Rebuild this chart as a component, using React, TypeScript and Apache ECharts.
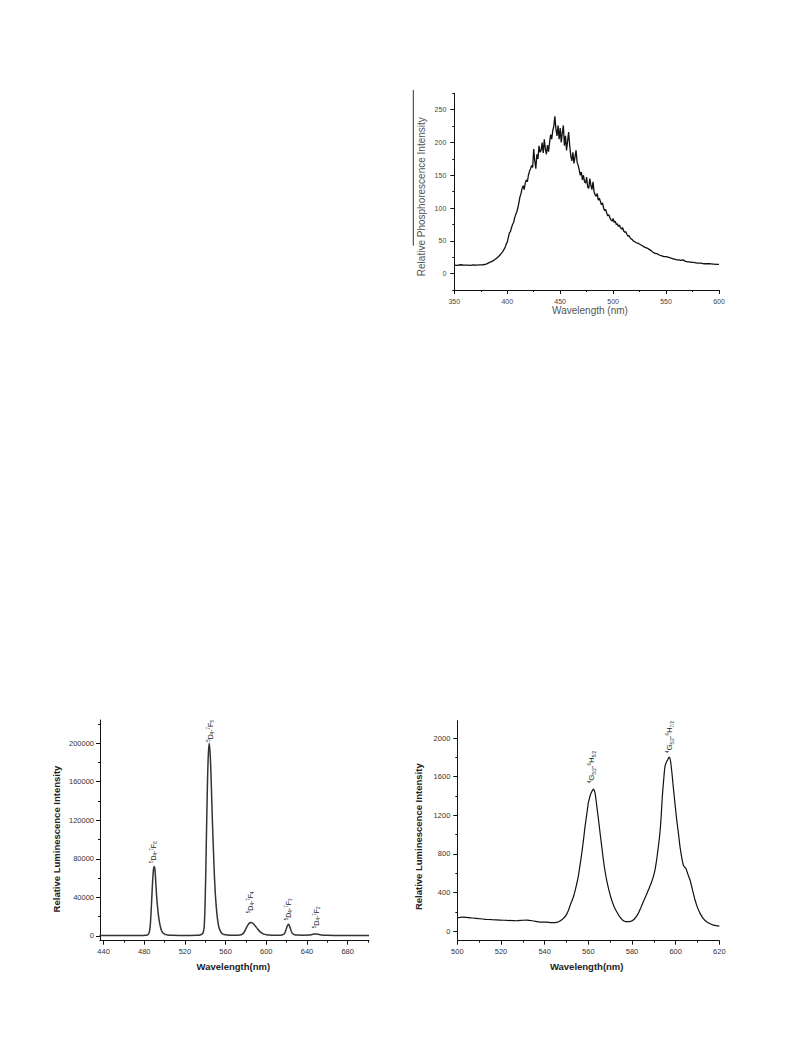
import React, { useEffect, useRef } from "react";
import * as echarts from "echarts";

// ---------- Chart 1: phosphorescence ----------
const phosWavelength = [
  350, 353, 356, 359, 362, 365, 368, 371, 374, 377, 380, 382, 384, 386, 388, 390, 392, 394, 396, 398,
  399, 400, 401, 402, 403, 404, 405, 406, 407, 408, 409, 410, 411, 412, 413, 414, 415, 416, 417, 418,
  419, 420, 421, 422, 423, 424, 425, 426, 427, 428, 429, 430, 431, 432, 433, 434, 435, 436, 437, 438,
  439, 440, 441, 442, 443, 444, 445, 446, 447, 448, 449, 450, 451, 452, 453, 454, 455, 456, 457, 458,
  459, 460, 461, 462, 463, 464, 465, 466, 467, 468, 469, 470, 471, 472, 473, 474, 475, 476, 477, 478,
  479, 480, 481, 482, 483, 484, 485, 486, 487, 488, 489, 490, 491, 492, 493, 494, 495, 496, 497, 498,
  499, 500, 501, 502, 503, 504, 505, 506, 507, 508, 509, 510, 511, 512, 513, 514, 515, 516, 517, 518,
  519, 520, 522, 524, 526, 528, 530, 532, 534, 536, 538, 540, 542, 544, 546, 548, 550, 552, 554, 556,
  558, 560, 562, 564, 566, 568, 570, 572, 574, 576, 578, 580, 583, 586, 589, 592, 595, 598, 600,
];
const phosIntensity = [
  13, 12.5, 13.5, 12.8, 13, 12.6, 13.2, 12.9, 13.4, 13.5, 14.5, 16, 17.5, 19, 21, 23.5, 26.5, 30, 34, 40,
  45, 48, 55, 62, 64, 70, 75, 78, 85, 90, 94, 100, 108, 117, 122, 130, 134, 128, 138, 143,
  140, 150, 156, 160, 165, 162, 190, 172, 160, 182, 175, 195, 185, 188, 200, 184, 205, 190, 182, 196,
  186, 200, 212, 205, 218, 225, 240, 220, 210, 226, 205, 222, 200, 215, 226, 195, 210, 188, 202, 216,
  195, 180, 172, 185, 168, 178, 188, 170, 165, 158, 150, 155, 143, 150, 140, 138, 147, 132, 130, 145,
  135, 128, 140, 125, 120, 118, 122, 112, 115, 110, 105, 108, 100, 96, 98, 92, 88, 90, 85, 82,
  80, 84, 78, 80, 75, 76, 72, 74, 70, 68, 70, 65, 63, 64, 60, 57, 58, 55, 53, 52,
  50, 49, 47, 46, 44, 42, 40, 39, 37, 35, 32, 31, 30, 28, 27, 26, 26, 25, 24, 23,
  22, 21, 21, 20, 21, 19, 18, 18, 17, 17, 16.5, 16, 16, 15, 15, 15, 14.5, 14, 14,
];
const phosXTicks = [350, 400, 450, 500, 550, 600];
const phosXMinor = [375, 425, 475, 525, 575];
const phosYTicks = [0, 50, 100, 150, 200, 250];
const phosYMinor = [-25, 25, 75, 125, 175, 225, 275];

// ---------- Chart 2: Tb luminescence ----------
const tbWavelength = [
  436, 440, 450, 460, 470, 478, 481, 483, 484, 485, 486, 487, 488, 489, 489.8, 490.5, 491, 492, 493, 494,
  495, 496, 497, 498, 500, 503, 508, 515, 525, 532, 535, 537, 538, 539, 540, 541, 542, 543, 544, 545,
  546, 547, 548, 549, 550, 551, 552, 553, 554, 556, 558, 562, 568, 574, 576, 578, 580, 582, 584, 585,
  587, 589, 591, 593, 595, 597, 600, 605, 612, 615, 617, 618, 619, 620, 621, 622, 623, 624, 625, 626,
  628, 631, 636, 642, 645, 647, 649, 651, 654, 660, 670, 680, 690, 701,
];
const tbIntensity = [
  400, 350, 300, 300, 300, 350, 600, 1000, 1600, 4000, 12000, 30000, 52000, 68000, 72000, 69000, 62000, 44000, 31000, 21000,
  14000, 9000, 5500, 3500, 1800, 900, 600, 450, 450, 600, 1000, 2000, 3500, 10000, 40000, 95000, 150000, 188000, 200000, 185000,
  155000, 120000, 90000, 62000, 42000, 28000, 18000, 11000, 7000, 3000, 1600, 900, 700, 900, 1500, 3500, 7500, 11500, 13800, 14000,
  12800, 10500, 7800, 5200, 3300, 2100, 1200, 700, 700, 900, 1500, 2500, 5000, 8500, 11000, 12000, 10000, 6500, 3800, 2200,
  1200, 850, 700, 800, 1400, 1900, 2000, 1600, 1000, 700, 500, 400, 350, 300,
];
const tbXTicks = [440, 480, 520, 560, 600, 640, 680];
const tbXMinor = [460, 500, 540, 580, 620, 660, 700];
const tbYTicks = [0, 40000, 80000, 120000, 160000, 200000];
const tbYMinor = [20000, 60000, 100000, 140000, 180000, 220000];
const tbLabelNm = [489.2, 544.7, 584.3, 622, 649.5];
const tbLabelValue = [75600, 201400, 23600, 16300, 8000];
const tbLabelFinal = ["6", "5", "4", "3", "2"];

// ---------- Chart 3: Sm luminescence ----------
const smWavelength = [
  500, 502, 504.3, 507, 510, 513, 516, 519.6, 523, 527, 530, 532, 535, 538, 541, 543, 545.5, 547, 548.6, 550,
  551, 552, 553.2, 554.3, 555.4, 556.2, 557, 557.8, 558.5, 559.3, 560, 560.8, 561.6, 562.3, 562.7, 563.1, 563.6, 564.1, 564.8, 565.4,
  566.2, 566.9, 567.6, 568.4, 569.5, 570.7, 571.8, 573, 574.5, 576.1, 577.2, 578.3, 579.5, 580.6, 581.8, 582.9, 584, 585.2, 586.4, 587.5,
  588.7, 589.8, 590.6, 591.3, 592, 592.8, 593.4, 593.9, 594.5, 595.1, 595.9, 596.5, 597, 597.4, 597.7, 598.3, 598.9, 599.7, 600.5, 601.3,
  602, 602.8, 603.5, 604.2, 604.7, 605.6, 606.6, 607.8, 608.9, 610, 611.2, 612.7, 614.2, 615.8, 617.3, 618.7, 620,
];
const smIntensity = [
  135, 145, 142, 135, 128, 122, 118, 114, 110, 107, 112, 114, 104, 93, 92, 88, 90, 105, 132, 170,
  220, 285, 356, 450, 564, 680, 806, 945, 1082, 1210, 1325, 1400, 1446, 1471, 1460, 1429, 1350, 1256, 1130, 1014,
  870, 737, 630, 529, 420, 322, 255, 200, 145, 107, 98, 97, 102, 114, 145, 183, 240, 304, 365, 425,
  490, 564, 640, 737, 860, 1014, 1200, 1394, 1560, 1705, 1757, 1780, 1803, 1790, 1757, 1640, 1498, 1320, 1152, 1010,
  875, 760, 685, 660, 651, 590, 529, 420, 322, 245, 183, 130, 97, 75, 62, 56, 52,
];
const smXTicks = [500, 520, 540, 560, 580, 600, 620];
const smXMinor = [510, 530, 550, 570, 590, 610];
const smYTicks = [0, 400, 800, 1200, 1600, 2000];
const smYMinor = [200, 600, 1000, 1400, 1800];
const smLabelNm = [561.6, 597.4];
const smLabelValue = [1533, 1844];
const smLabelFinal = ["5/2", "7/2"];

const FONT = "'Liberation Sans', Arial, Helvetica, sans-serif";

function pairs(xs: number[], ys: number[]) {
  return xs.map((x, i) => [x, ys[i]]);
}

function axisPair(
  dim: "x" | "y",
  gridIndex: number,
  min: number,
  max: number,
  majors: number[],
  minors: number[],
  labelColor: string,
  fontSize: number,
  margin: number
) {
  const position = dim === "x" ? "bottom" : "left";
  const major = {
    type: "value",
    gridIndex,
    min,
    max,
    position,
    axisLine: { show: true, onZero: false, lineStyle: { color: "#111", width: 1 } },
    axisTick: { show: true, customValues: majors, length: 4, lineStyle: { color: "#111", width: 1 } },
    axisLabel: {
      show: true,
      customValues: majors,
      color: labelColor,
      fontSize,
      fontFamily: FONT,
      margin,
      formatter: (v: number) => String(v),
    },
    splitLine: { show: false },
  };
  const minor = {
    type: "value",
    gridIndex,
    min,
    max,
    position,
    axisLine: { show: false, onZero: false },
    axisTick: { show: true, customValues: minors, length: 2, lineStyle: { color: "#111", width: 1 } },
    axisLabel: { show: false, customValues: minors },
    splitLine: { show: false },
  };
  return [major, minor];
}

function transitionText(
  upper: string,
  upperSub: string,
  lower: string,
  lowerSup: string,
  lowerSub: string,
  first: string
) {
  return `{sup|${upper}}${first}{sub|${upperSub}}-{sup|${lowerSup}}${lower}{sub|${lowerSub}}`;
}

export default function App() {
  const ref = useRef<HTMLDivElement>(null);

  useEffect(() => {
    if (!ref.current) return;
    const chart = echarts.init(ref.current, null, { renderer: "svg" });

    const [x0, x0m] = axisPair("x", 0, 350, 600, phosXTicks, phosXMinor, "#444", 7, 8);
    const [y0, y0m] = axisPair("y", 0, -25, 275, phosYTicks, phosYMinor, "#444", 7, 8);
    const [x1, x1m] = axisPair("x", 1, 436.5, 701, tbXTicks, tbXMinor, "#333", 7.5, 7);
    const [y1, y1m] = axisPair("y", 1, -5000, 224000, tbYTicks, tbYMinor, "#333", 7.5, 6);
    const [x2, x2m] = axisPair("x", 2, 500, 620, smXTicks, smXMinor, "#333", 7.5, 7);
    const [y2, y2m] = axisPair("y", 2, -100, 2180, smYTicks, smYMinor, "#333", 7.5, 7);

    chart.setOption({
      animation: false,
      backgroundColor: "#ffffff",
      grid: [
        { left: 454.3, top: 93.3, width: 264.7, height: 196.7 },
        { left: 100, top: 720, width: 269, height: 220.7 },
        { left: 457.3, top: 720.7, width: 262, height: 220 },
      ],
      xAxis: [x0, x0m, x1, x1m, x2, x2m],
      yAxis: [y0, y0m, y1, y1m, y2, y2m],
      series: [
        {
          type: "line",
          xAxisIndex: 0,
          yAxisIndex: 0,
          data: pairs(phosWavelength, phosIntensity),
          showSymbol: false,
          symbol: "none",
          lineStyle: { color: "#111111", width: 1.3 },
        },
        {
          type: "line",
          xAxisIndex: 2,
          yAxisIndex: 2,
          data: pairs(tbWavelength, tbIntensity),
          showSymbol: false,
          symbol: "none",
          smooth: 0.3,
          lineStyle: { color: "#333333", width: 1.5 },
        },
        {
          type: "line",
          xAxisIndex: 4,
          yAxisIndex: 4,
          data: pairs(smWavelength, smIntensity),
          showSymbol: false,
          symbol: "none",
          smooth: 0.2,
          lineStyle: { color: "#111111", width: 1.2 },
        },
      ],
    });

    const rich = {
      sup: { fontSize: 4.5, verticalAlign: "top", lineHeight: 5, fontFamily: FONT, fill: "#222" },
      sub: { fontSize: 4.5, verticalAlign: "bottom", lineHeight: 5, fontFamily: FONT, fill: "#222" },
    };

    const annotations: any[] = [];
    tbLabelNm.forEach((nm, i) => {
      const p = chart.convertToPixel({ xAxisIndex: 2, yAxisIndex: 2 }, [nm, tbLabelValue[i]]) as number[];
      annotations.push({
        type: "text",
        x: p[0],
        y: p[1],
        rotation: Math.PI / 2,
        style: {
          text: transitionText("5", "4", "F", "7", tbLabelFinal[i], "D"),
          rich,
          fontSize: 7,
          lineHeight: 9,
          fontFamily: FONT,
          fill: "#222",
          align: "left",
          verticalAlign: "middle",
        },
      });
    });
    smLabelNm.forEach((nm, i) => {
      const p = chart.convertToPixel({ xAxisIndex: 4, yAxisIndex: 4 }, [nm, smLabelValue[i]]) as number[];
      annotations.push({
        type: "text",
        x: p[0],
        y: p[1],
        rotation: Math.PI / 2,
        style: {
          text: transitionText("4", "5/2", "H", "6", smLabelFinal[i], "G"),
          rich,
          fontSize: 8,
          lineHeight: 10,
          fontFamily: FONT,
          fill: "#222",
          align: "left",
          verticalAlign: "middle",
        },
      });
    });

    const titles = [
      {
        type: "line",
        shape: { x1: 413.3, y1: 90, x2: 413.3, y2: 245.7 },
        style: { stroke: "#333", lineWidth: 1 },
      },
      {
        type: "text",
        x: 421.7,
        y: 196.7,
        rotation: Math.PI / 2,
        style: {
          text: "Relative Phosphorescence Intensity",
          fontSize: 10,
          fontFamily: FONT,
          fill: "#555",
          align: "center",
          verticalAlign: "middle",
        },
      },
      {
        type: "text",
        x: 590,
        y: 310,
        style: {
          text: "Wavelength (nm)",
          fontSize: 10,
          fontFamily: FONT,
          fill: "#555",
          align: "center",
          verticalAlign: "middle",
        },
      },
      {
        type: "text",
        x: 56.7,
        y: 839,
        rotation: Math.PI / 2,
        style: {
          text: "Relative Luminescence Intensity",
          fontSize: 9.5,
          fontWeight: "bold",
          fontFamily: FONT,
          fill: "#222",
          align: "center",
          verticalAlign: "middle",
        },
      },
      {
        type: "text",
        x: 233.3,
        y: 966.7,
        style: {
          text: "Wavelength(nm)",
          fontSize: 9.5,
          fontWeight: "bold",
          fontFamily: FONT,
          fill: "#222",
          align: "center",
          verticalAlign: "middle",
        },
      },
      {
        type: "text",
        x: 418.3,
        y: 836.7,
        rotation: Math.PI / 2,
        style: {
          text: "Relative Luminescence Intensity",
          fontSize: 9.5,
          fontWeight: "bold",
          fontFamily: FONT,
          fill: "#222",
          align: "center",
          verticalAlign: "middle",
        },
      },
      {
        type: "text",
        x: 586.7,
        y: 966.7,
        style: {
          text: "Wavelength(nm)",
          fontSize: 9.5,
          fontWeight: "bold",
          fontFamily: FONT,
          fill: "#222",
          align: "center",
          verticalAlign: "middle",
        },
      },
    ];

    chart.setOption({ graphic: [...titles, ...annotations] });

    return () => chart.dispose();
  }, []);

  return (
    <div
      ref={ref}
      style={{ position: "absolute", left: 0, top: 0, width: 793, height: 1057, background: "#fff" }}
    />
  );
}
